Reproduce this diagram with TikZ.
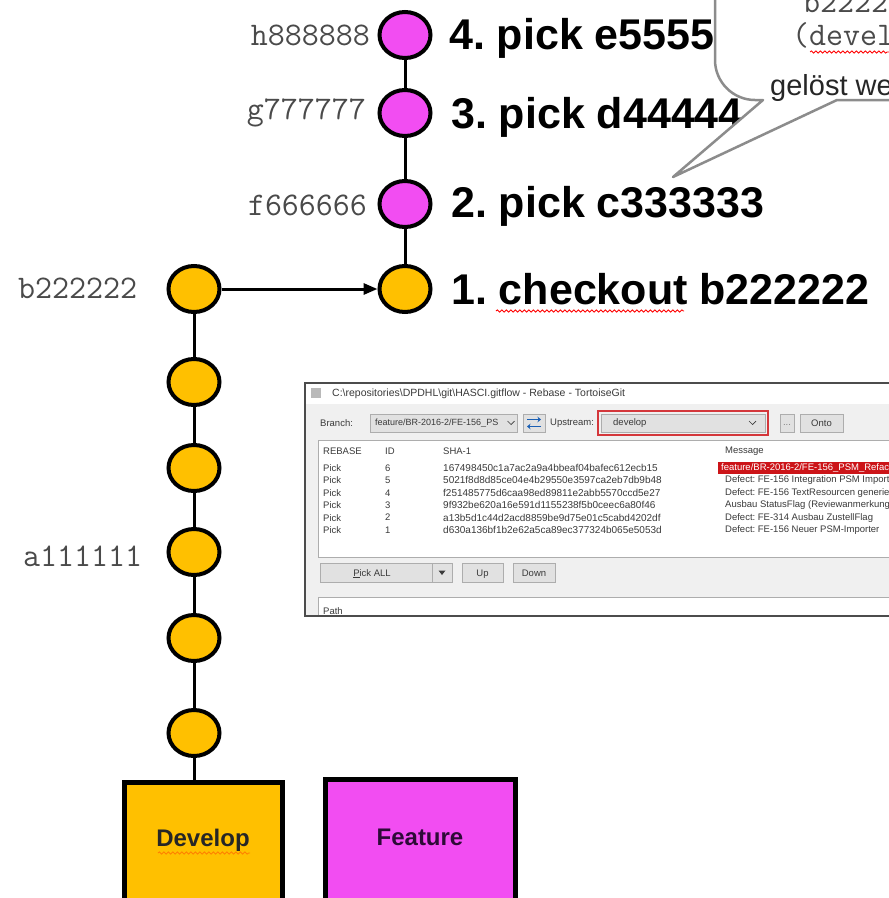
\documentclass[tikz,border=0pt]{standalone}
\usepackage{fontspec}
\setmainfont{Liberation Sans}
\usetikzlibrary{shapes.geometric,arrows.meta,decorations.pathmorphing}
\definecolor{devY}{HTML}{FFC000}
\definecolor{featM}{HTML}{F24DF2}
\definecolor{callG}{HTML}{8C8C8C}
\definecolor{monoG}{HTML}{4A4A4A}
\definecolor{uiText}{HTML}{3A3A3A}
\definecolor{uiBg}{HTML}{F0F0F0}
\definecolor{btnBg}{HTML}{E1E1E1}
\definecolor{btnBd}{HTML}{ADADAD}
\definecolor{selRed}{HTML}{CC1418}
\definecolor{swapBlue}{HTML}{1A5FB4}
\frenchspacing
\begin{document}
\begin{tikzpicture}[x=1pt,y=-1pt,
  commit/.style={ellipse,draw=black,line width=4pt,minimum width=51pt,minimum height=46pt,inner sep=0pt},
  dcommit/.style={commit,fill=devY},
  fcommit/.style={commit,fill=featM},
  link/.style={line width=3pt},
  hashlbl/.style={font=\ttfamily\fontsize{33}{33}\selectfont,text=monoG,inner sep=0pt},
  steplbl/.style={font=\bfseries\fontsize{43}{43}\selectfont,inner sep=0pt,anchor=base west},
  branchbox/.style={draw=black,line width=5pt,anchor=north,inner sep=0pt},
  boxlbl/.style={font=\bfseries\fontsize{24}{24}\selectfont,inner sep=0pt},
  ui/.style={font=\fontsize{9.5}{9.5}\selectfont,text=uiText,inner sep=0pt,anchor=west},
  btntext/.style={font=\fontsize{9.5}{9.5}\selectfont,text=uiText,inner sep=0pt,anchor=base},
  uibtn/.style={fill=btnBg,draw=btnBd,line width=0.8pt},
  wavy/.style={decorate,decoration={snake,amplitude=1.1pt,segment length=4.5pt},line width=0.9pt},
  calltext/.style={inner sep=0pt,anchor=base west},
]
\useasboundingbox (0,0) rectangle (889,898);
\clip (0,0) rectangle (889,898);
\fill[white] (0,0) rectangle (889,898);

% ---------------- dialog screenshot ----------------
\begin{scope}
\clip (305,383) rectangle (900,616);
\fill[uiBg] (305,383) rectangle (900,616);
\fill[white] (305,383) rectangle (900,404);
\fill[gray!55] (311,388) rectangle (321,398);
\node[ui,font=\fontsize{10.5}{10.5}\selectfont] (title) at (332,393.5)
  {C:\textbackslash repositories\textbackslash DPDHL\textbackslash git\textbackslash HASCI.gitflow - Rebase - TortoiseGit};
\node[ui] (branchlbl) at (320,423) {Branch:};
\draw[fill=btnBg,draw=btnBd,line width=0.8pt] (370,414) rectangle (517,432);
\node[ui,font=\fontsize{9}{9}\selectfont] (branchval) at (375,423) {feature/BR-2016-2/FE-156\_PS};
\draw[uiText,line width=0.7pt] (507.5,421) -- (511,424.5) -- (514.5,421);
\draw[uibtn] (523,414) rectangle (545,432);
\draw[swapBlue,line width=1.6pt,-{Stealth[length=3.5pt,width=5.5pt]}] (527,419.5) -- (541,419.5);
\draw[swapBlue,line width=1.6pt,-{Stealth[length=3.5pt,width=5.5pt]}] (541,426.5) -- (527,426.5);
\node[ui] (upstreamlbl) at (550,423) {Upstream:};
\draw[fill=btnBg,draw=btnBd,line width=0.8pt] (601,414) rectangle (765,432);
\draw[selRed!85!white,line width=1.6pt] (598,411) rectangle (768,435);
\node[ui] (upval) at (613,423) {develop};
\draw[uiText,line width=0.7pt] (749,421) -- (752.5,424.5) -- (756,421);
\draw[uibtn] (780,414) rectangle (794,432);
\node[btntext,text=gray] (dots) at (787,425) {...};
\draw[uibtn] (800,414) rectangle (843,432);
\node[btntext] (onto) at (821.5,426.5) {Onto};
% table
\draw[fill=white,draw=btnBd,line width=0.8pt] (318,440) rectangle (900,557);
\node[ui] (hRebase) at (323,451) {REBASE};
\node[ui] (hID) at (385,451) {ID};
\node[ui] (hSHA) at (443,451) {SHA-1};
\node[ui] (hMsg) at (725,451) {Message};
\fill[selRed] (718,462) rectangle (900,474);
\foreach \i/\sha/\msg [count=\k from 0] in {
  6/167498450c1a7ac2a9a4bbeaf04bafec612ecb15/{},
  5/5021f8d8d85ce04e4b29550e3597ca2eb7db9b48/{Defect: FE-156 Integration PSM Import},
  4/f251485775d6caa98ed89811e2abb5570ccd5e27/{Defect: FE-156 TextResourcen generie},
  3/9f932be620a16e591d1155238f5b0ceec6a80f46/{Ausbau StatusFlag (Reviewanmerkung)},
  2/a13b5d1c44d2acd8859be9d75e01c5cabd4202df/{Defect: FE-314 Ausbau ZustellFlag},
  1/d630a136bf1b2e62a5ca89ec377324b065e5053d/{Defect: FE-156 Neuer PSM-Importer}} {
  \node[ui] (pick\i) at (323,468+12.4*\k) {Pick};
  \node[ui] (id\i) at (385,468+12.4*\k) {\i};
  \node[ui,font=\fontsize{10}{10}\selectfont] (sha\i) at (443,468+12.4*\k) {\sha};
  \node[ui] (msg\i) at (725,468+12.4*\k) {\msg};
}
\node[ui,text=white] (msg6hl) at (721,468) {feature/BR-2016-2/FE-156\_PSM\_Refac};
% buttons
\draw[uibtn] (320,563) rectangle (452,582);
\draw[btnBd,line width=0.8pt] (432,563) -- (432,582);
\node[btntext] (pickall) at (372,576) {\underline{P}ick ALL};
\fill[uiText] (438.5,570.5) -- (445.5,570.5) -- (442,575) -- cycle;
\draw[uibtn] (462,563) rectangle (503,582);
\node[btntext] (upbtn) at (482.5,576) {Up};
\draw[uibtn] (513,563) rectangle (555,582);
\node[btntext] (downbtn) at (534,576) {Down};
% path box
\draw[fill=white,draw=btnBd,line width=0.8pt] (318,597) rectangle (900,630);
\node[ui] (pathlbl) at (323,611) {Path};
\end{scope}
\draw[black!70,line width=1.5pt] (900,383) -- (305,383) -- (305,616) -- (900,616);

% ---------------- commits ----------------
\node[fcommit] (h) at (405,35) {};
\node[fcommit] (g) at (405,113) {};
\node[fcommit] (f) at (405,204) {};
\node[dcommit] (c1) at (405,289) {};

\node[dcommit] (b) at (194,289) {};
\node[dcommit] (l2) at (194,382) {};
\node[dcommit] (l3) at (194,468) {};
\node[dcommit] (a) at (194,552) {};
\node[dcommit] (l5) at (194,638) {};
\node[dcommit] (l6) at (194,733) {};

\node[branchbox,fill=devY,minimum width=158pt,minimum height=160pt] (devbox) at (203.5,779.5) {};
\node[branchbox,fill=featM,minimum width=190pt,minimum height=160pt] (featbox) at (420.5,776.5) {};
\node[boxlbl,text=black!85] (devlbl) at (203,840) {Develop};
\node[boxlbl,text={rgb,255:red,45;green,10;blue,55}] (featlbl) at (420,837) {Feature};
\draw[wavy,orange] (158,853) -- (250,853);

\draw[link] (h) -- (g);
\draw[link] (g) -- (f);
\draw[link] (f) -- (c1);
\draw[link] (b) -- (l2);
\draw[link] (l2) -- (l3);
\draw[link] (l3) -- (a);
\draw[link] (a) -- (l5);
\draw[link] (l5) -- (l6);
\draw[link] (l6) -- (l6 |- devbox.north);
\draw[link,-{Triangle[length=14pt,width=11pt]}] (b) -- (c1);

% hash labels
\node[hashlbl,anchor=east] (lh) at (370,35) {h888888};
\node[hashlbl,anchor=east] (lg) at (366,113) {g777777};
\node[hashlbl,anchor=east] (lf) at (367,205) {f666666};
\node[hashlbl,anchor=west] (lb) at (18,288) {b222222};
\node[hashlbl,anchor=west] (la) at (23,556) {a111111};

% step labels
\node[steplbl] (s4) at (449,49) {4. pick e5555};
\node[steplbl] (s3) at (451,128) {3. pick d44444};
\node[steplbl] (s2) at (451,217) {2. pick c333333};
\node[steplbl] (s1) at (451,304) {1. checkout b222222};
\draw[wavy,red] (496,311) -- (684,311);

% ---------------- callout ----------------
\filldraw[fill=white,draw=callG,line width=2.5pt,line join=round]
  (950,100) -- (837,100) -- (673,177) -- (763,100) -- (755,100)
  .. controls (733,100) and (715,82) .. (715,60) -- (715,-50) -- (950,-50) -- cycle;
\node[calltext,font=\ttfamily\fontsize{33}{33}\selectfont,text=monoG] (ct1) at (803,12) {b2222};
\node[calltext,font=\ttfamily\fontsize{33}{33}\selectfont,text=monoG] (ct2) at (792,45) {(devel};
\draw[wavy,red,line width=0.8pt] (810,52) -- (889,52);
\node[calltext,font=\fontsize{29}{29}\selectfont,text=black!85] (ct3) at (770,95) {gelöst we};
\end{tikzpicture}
\end{document}
